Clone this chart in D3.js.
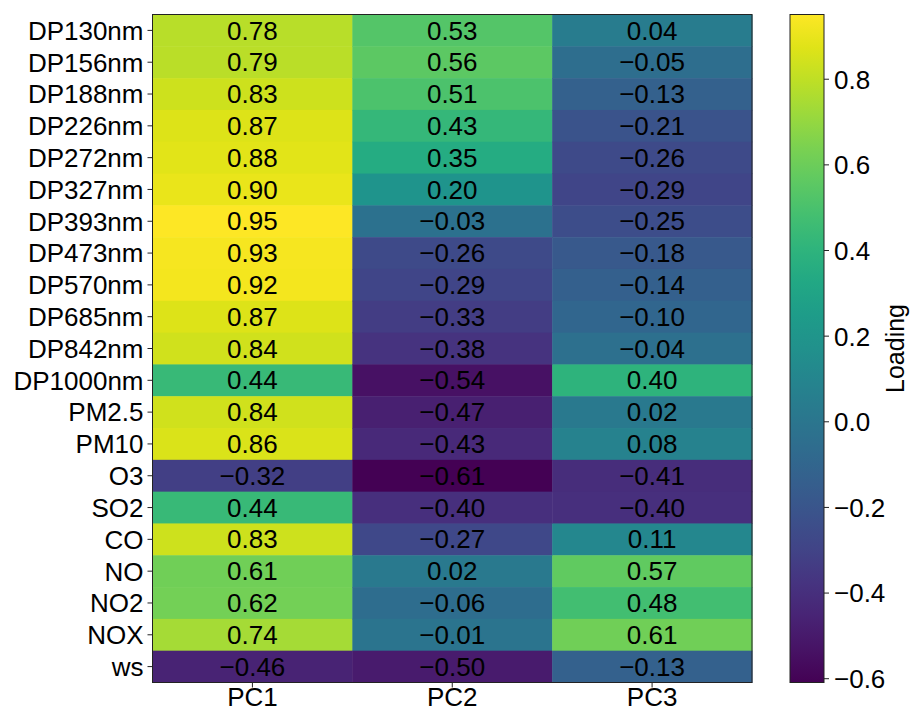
<!DOCTYPE html>
<html>
<head>
<meta charset="utf-8">
<script src="https://cdn.jsdelivr.net/npm/d3@7"></script>
<style>
  body { margin: 0; background: #fff; }
  svg text { font-family: "Liberation Sans", Arial, sans-serif; fill: #000; }
</style>
</head>
<body>
<div id="chart"></div>
<script>
// row labels (top to bottom) and columns
const rows = ["DP130nm", "DP156nm", "DP188nm", "DP226nm", "DP272nm", "DP327nm", "DP393nm",
  "DP473nm", "DP570nm", "DP685nm", "DP842nm", "DP1000nm", "PM2.5", "PM10", "O3", "SO2",
  "CO", "NO", "NO2", "NOX", "ws"];
const cols = ["PC1", "PC2", "PC3"];

const pc1 = [0.78, 0.79, 0.83, 0.87, 0.88, 0.90, 0.95, 0.93, 0.92, 0.87, 0.84, 0.44, 0.84, 0.86, -0.32, 0.44, 0.83, 0.61, 0.62, 0.74, -0.46];
const pc2 = [0.53, 0.56, 0.51, 0.43, 0.35, 0.20, -0.03, -0.26, -0.29, -0.33, -0.38, -0.54, -0.47, -0.43, -0.61, -0.40, -0.27, 0.02, -0.06, -0.01, -0.50];
const pc3 = [0.04, -0.05, -0.13, -0.21, -0.26, -0.29, -0.25, -0.18, -0.14, -0.10, -0.04, 0.40, 0.02, 0.08, -0.41, -0.40, 0.11, 0.57, 0.48, 0.61, -0.13];

const cbTicks = [-0.6, -0.4, -0.2, 0.0, 0.2, 0.4, 0.6, 0.8];
const cbLabel = "Loading";

const width = 910;
const height = 712;
const plot = { left: 152.5, right: 752, top: 14.5, bottom: 682.5 };
const cbar = { left: 790, right: 824 };
const fs = "26px";

const svg = d3.select("#chart").append("svg")
  .attr("width", width)
  .attr("height", height);

const series = [pc1, pc2, pc3];
const cells = [];
series.forEach((vals, j) => {
  vals.forEach((v, i) => cells.push({ row: rows[i], col: cols[j], v: v }));
});

const allVals = pc1.concat(pc2, pc3);
const vmin = d3.min(allVals), vmax = d3.max(allVals);
const color = d3.scaleSequential(d3.interpolateViridis).domain([vmin, vmax]);

const x = d3.scaleBand().domain(cols).range([plot.left, plot.right]);
const y = d3.scaleBand().domain(rows).range([plot.top, plot.bottom]);

const fmt = v => d3.format(".2f")(v).replace("-", "\u2212");

// cells
svg.append("g").selectAll("rect")
  .data(cells)
  .join("rect")
  .attr("x", d => x(d.col))
  .attr("y", d => y(d.row))
  .attr("width", x.bandwidth() + 0.5)
  .attr("height", y.bandwidth() + 0.5)
  .attr("fill", d => color(d.v));

svg.append("g").selectAll("text")
  .data(cells)
  .join("text")
  .attr("x", d => x(d.col) + x.bandwidth() / 2)
  .attr("y", d => y(d.row) + y.bandwidth() / 2)
  .attr("dy", "0.35em")
  .attr("text-anchor", "middle")
  .style("font-size", fs)
  .text(d => fmt(d.v));

// frame
svg.append("rect")
  .attr("x", plot.left).attr("y", plot.top)
  .attr("width", plot.right - plot.left)
  .attr("height", plot.bottom - plot.top)
  .attr("fill", "none")
  .attr("stroke", "#222")
  .attr("stroke-width", 1);

// axes
const yAxis = svg.append("g")
  .attr("transform", `translate(${plot.left},0)`)
  .call(d3.axisLeft(y).tickSize(5).tickPadding(4));
yAxis.select(".domain").remove();
yAxis.selectAll("text").style("font-size", fs).attr("dy", "0.36em");
yAxis.selectAll("line").attr("stroke", "#222");

const xAxis = svg.append("g")
  .attr("transform", `translate(0,${plot.bottom})`)
  .call(d3.axisBottom(x).tickSize(5).tickPadding(3));
xAxis.select(".domain").remove();
xAxis.selectAll("text").style("font-size", fs).attr("dy", "0.6em");
xAxis.selectAll("line").attr("stroke", "#222");

// colorbar
const cy = d3.scaleLinear().domain([vmin, vmax]).range([plot.bottom, plot.top]);
const grad = svg.append("defs").append("linearGradient")
  .attr("id", "cbgrad")
  .attr("x1", 0).attr("y1", 1).attr("x2", 0).attr("y2", 0);
d3.range(0, 1.0001, 0.05).forEach(t => {
  grad.append("stop")
    .attr("offset", t)
    .attr("stop-color", d3.interpolateViridis(t));
});
svg.append("rect")
  .attr("x", cbar.left).attr("y", plot.top)
  .attr("width", cbar.right - cbar.left)
  .attr("height", plot.bottom - plot.top)
  .attr("fill", "url(#cbgrad)")
  .attr("stroke", "#222")
  .attr("stroke-width", 1);

const cAxis = svg.append("g")
  .attr("transform", `translate(${cbar.right},0)`)
  .call(d3.axisRight(cy).tickValues(cbTicks).tickFormat(v => d3.format(".1f")(v).replace("-", "\u2212")).tickSize(5).tickPadding(5));
cAxis.select(".domain").remove();
cAxis.selectAll("text").style("font-size", fs).attr("dy", "0.36em");
cAxis.selectAll("line").attr("stroke", "#222");

svg.append("text")
  .attr("transform", `translate(904,${(plot.top + plot.bottom) / 2}) rotate(-90)`)
  .attr("text-anchor", "middle")
  .style("font-size", "25px")
  .text(cbLabel);
</script>
</body>
</html>
